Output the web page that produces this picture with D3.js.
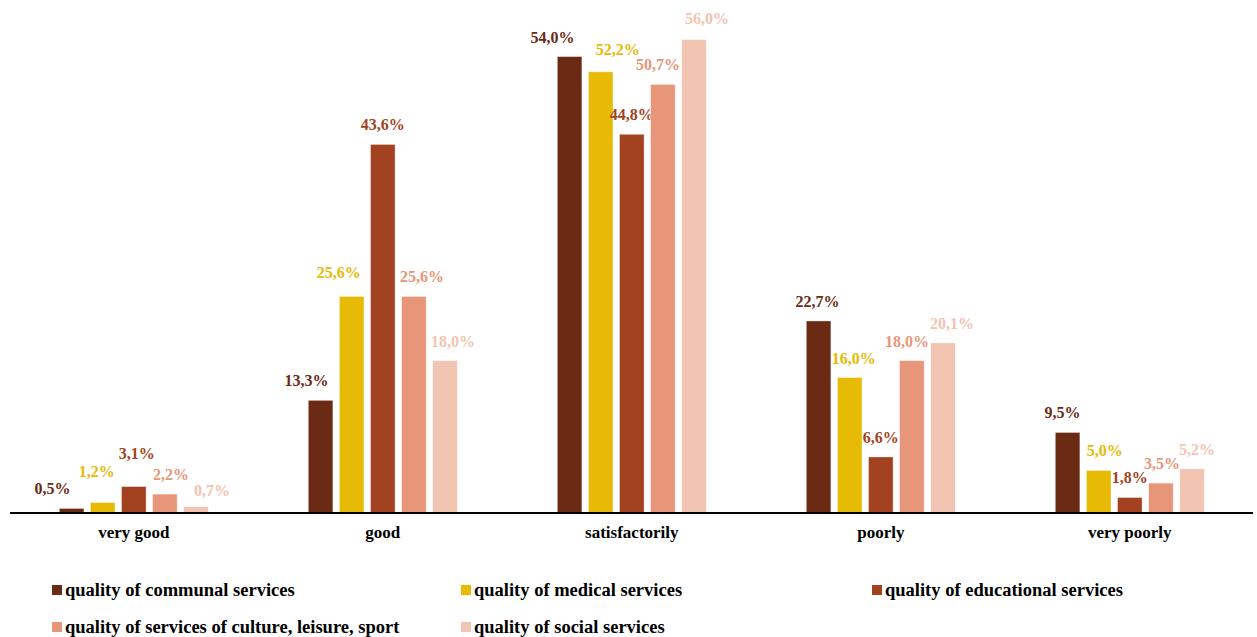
<!DOCTYPE html>
<html><head><meta charset="utf-8">
<script src="https://cdn.jsdelivr.net/npm/d3@7/dist/d3.min.js"></script>
<style>body{margin:0;background:#fff}svg{display:block}text{font-family:"Liberation Serif","Times New Roman",serif;font-weight:bold}</style>
</head><body><svg id="c" width="1257" height="637"></svg>
<script>
const categories = ["very good", "good", "satisfactorily", "poorly", "very poorly"];
const seriesNames = ["quality of communal services", "quality of medical services", "quality of educational services", "quality of services of culture, leisure, sport", "quality of social services"];
const communal = [0.5, 13.3, 54.0, 22.7, 9.5];
const medical = [1.2, 25.6, 52.2, 16.0, 5.0];
const educational = [3.1, 43.6, 44.8, 6.6, 1.8];
const culture = [2.2, 25.6, 50.7, 18.0, 3.5];
const social = [0.7, 18.0, 56.0, 20.1, 5.2];
const values = [communal, medical, educational, culture, social];
const colors = ["#6B2A14", "#E6BA05", "#A34220", "#E8967A", "#F2C4B2"];
// label nudges [dx, extra dy] per series per category (style only)
const nudges = [
  [[-19,0],[-14,0],[-17,0],[-1,0],[-5,0]],
  [[-6,-12],[-13,-4],[17,-3],[4,0],[6,0]],
  [[3,-14],[0,0],[0,0],[0,0],[0,0]],
  [[6,0],[8,0],[-5,0],[-5,0],[1,0]],
  [[16,3],[8,0],[13,-2],[9,0],[5,0]]
];

const svg = d3.select("#c");
const x0 = d3.scaleBand().domain(categories).range([9.3, 1254.3]);
const groupW = 149;
const x1 = d3.scaleBand().domain(d3.range(5)).range([0, groupW]).paddingInner(0.21);
const y = d3.scaleLinear().domain([0, 60]).range([512.7, 5.9]);

const g = svg.append("g");
categories.forEach((c, ci) => {
  const gx = x0(c) + x0.bandwidth() / 2 - groupW / 2;
  values.forEach((arr, si) => {
    const v = arr[ci];
    g.append("rect").attr("x", gx + x1(si)).attr("y", y(v))
      .attr("width", x1.bandwidth()).attr("height", y(0) - y(v)).attr("fill", colors[si])
      .attr("stroke", "#fff").attr("stroke-opacity", 0.45).attr("stroke-width", 0.8);
    const n = nudges[si][ci];
    g.append("text").attr("x", gx + x1(si) + x1.bandwidth() / 2 + n[0]).attr("y", y(v) - 14 + n[1])
      .attr("text-anchor", "middle").attr("font-size", 16).attr("fill", colors[si])
      .text(v.toFixed(1).replace(".", ",") + "%");
  });
});

svg.append("line").attr("x1", 10).attr("x2", 1253).attr("y1", 513).attr("y2", 513)
  .attr("stroke", "#000").attr("stroke-width", 2);

const xAxis = d3.axisBottom(x0).tickSize(0).tickPadding(13);
const ax = svg.append("g").attr("transform", "translate(0,513)").call(xAxis);
ax.select(".domain").remove();
ax.selectAll("text").attr("font-size", 17).attr("fill", "#000")
  .style("font-family", '"Liberation Serif","Times New Roman",serif').style("font-weight", "bold");

const legPos = [[52, 590], [461, 590], [872, 590], [52, 627], [461, 627]];
seriesNames.forEach((s, i) => {
  const [lx, ly] = legPos[i];
  svg.append("rect").attr("x", lx).attr("y", ly - 5).attr("width", 10).attr("height", 10).attr("fill", colors[i]);
  svg.append("text").attr("x", lx + 13).attr("y", ly + 6).attr("font-size", 18.5).attr("fill", "#000").text(s);
});
</script></body></html>
